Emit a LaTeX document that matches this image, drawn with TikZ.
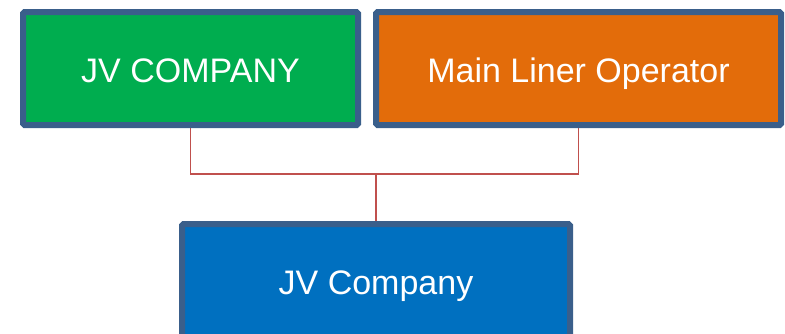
\documentclass[tikz,border=0pt]{standalone}
\usepackage{fontspec}
\setmainfont{Liberation Sans}
\usetikzlibrary{backgrounds}
\definecolor{bordc}{HTML}{3A5F8B}
\definecolor{greenc}{HTML}{00AD4F}
\definecolor{orangec}{HTML}{E36C0A}
\definecolor{bluec}{HTML}{0070C0}
\definecolor{linkc}{HTML}{C0504D}
\begin{document}
\begin{tikzpicture}[x=1pt,y=-1pt,
  orgbox/.style={draw=bordc, line width=6pt, rounded corners=1.5pt, text=white,
    minimum height=113pt, inner sep=0pt, text height=28pt, text depth=0pt,
    font=\fontsize{34}{40}\selectfont},
  link/.style={draw=linkc, line width=1.8pt}]
\useasboundingbox (0,0) rectangle (785,333);
\begin{scope}
\clip (0,0) rectangle (785,333);
\node[orgbox, fill=greenc, minimum width=335pt] (green) at (190.5,68.5) {JV COMPANY};
\node[orgbox, fill=orangec, minimum width=405pt] (orange) at (578.5,68.5) {Main Liner Operator};
\node[orgbox, fill=bluec, minimum width=388pt] (blue) at (376,280.5) {JV Company};
\coordinate (j) at (376,174);
\begin{scope}[on background layer]
\draw[link] (green.south) |- (j) -| (orange.south);
\draw[link] (j) -- (blue.north);
\end{scope}
\end{scope}
\end{tikzpicture}
\end{document}
